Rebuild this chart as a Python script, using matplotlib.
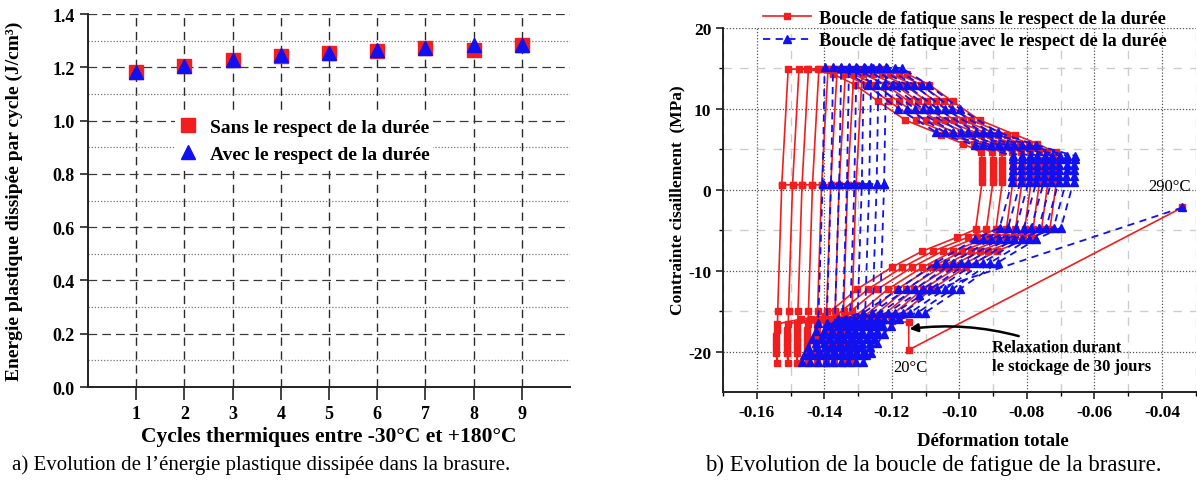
import matplotlib.pyplot as plt
import numpy as np

plt.rcParams['font.family'] = ['Liberation Serif', 'DejaVu Serif']

# ---- left panel : dissipated plastic energy per cycle
cycles = [1, 2, 3, 4, 5, 6, 7, 8, 9]
energy_sans = [1.183, 1.204, 1.226, 1.244, 1.253, 1.262, 1.273, 1.266, 1.284]
energy_avec = [1.183, 1.206, 1.227, 1.245, 1.254, 1.264, 1.274, 1.283, 1.285]

red_strain = [-0.1526, -0.1538, -0.1540, -0.1542, -0.1542, -0.1542, -0.1542, -0.1541, -0.1540,
              -0.1470, -0.1398, -0.1303, -0.1201, -0.1110, -0.1008, -0.0952,
              -0.0933, -0.0933, -0.0933, -0.0933, -0.0933, -0.0935,
              -0.0990, -0.1055, -0.1160, -0.1240, -0.1310, -0.1375, -0.1450, -0.1507, -0.1526]
red_stress = [0.6, -15.0, -21.4, -20.2, -19.5, -18.8, -18.1, -17.4, -16.6,
              -16.0, -15.6, -12.3, -9.6, -7.6, -5.9, -4.9,
              0.9, 1.6, 2.3, 3.0, 3.7, 4.6,
              5.7, 6.8, 8.6, 10.9, 13.0, 14.3, 14.9, 14.9, 0.6]
red_shift = [0.0, 0.0032, 0.0060, 0.0091, 0.0118, 0.0145, 0.0170, 0.0195, 0.0220]

blue_strain = [-0.1405, -0.1418, -0.1425, -0.1435, -0.1448, -0.1460, -0.1467,
               -0.1445, -0.1425, -0.1405, -0.1385, -0.1360,
               -0.1284, -0.1181, -0.1068, -0.0954, -0.0881,
               -0.0844, -0.0843, -0.0842, -0.0842, -0.0841, -0.0841,
               -0.0954, -0.1068, -0.1181, -0.1272, -0.1351, -0.1399, -0.1405]
blue_stress = [0.7, -16.5, -17.5, -18.5, -19.5, -20.4, -21.3,
               -20.2, -19.0, -17.8, -16.8, -16.0,
               -15.2, -12.3, -9.0, -6.1, -4.7,
               1.0, 1.7, 2.4, 3.1, 3.8, 4.2,
               5.5, 7.1, 10.0, 12.9, 15.0, 15.2, 0.7]
blue_shift = [0.0, 0.0025, 0.0049, 0.0072, 0.0094, 0.0116, 0.0138, 0.0160, 0.0182]

# storage at 20C then heating to 290C
red_init_strain = [-0.034, -0.115, -0.115, -0.120]
red_init_stress = [-2.2, -19.8, -16.4, -16.2]
blue_init_strain = [-0.034, -0.112]
blue_init_stress = [-2.2, -13.0]

RED = '#f01e1e'
BLUE = '#1010f0'

fig = plt.figure(figsize=(11.97, 4.81), dpi=100)

# ======================= left ==========================
ax1 = fig.add_axes([0.0735, 0.1933, 0.4027, 0.7755])
ax1.plot(cycles, energy_sans, 's', color=RED, ms=9.5, label='Sans le respect de la durée', zorder=3)
ax1.plot(cycles, energy_avec, '^', color=BLUE, ms=10.5, label='Avec le respect de la durée', zorder=4)
ax1.set_xlim(0, 10)
ax1.set_ylim(0, 1.4)
ax1.set_xticks(cycles)
ax1.set_yticks(np.arange(0, 1.41, 0.2))
ax1.set_yticks(np.arange(0.1, 1.4, 0.2), minor=True)
ax1.yaxis.grid(True, which='major', ls=(0, (7, 4)), color='#3a3a3a', lw=0.9)
ax1.yaxis.grid(True, which='minor', ls=(0, (1, 1.5)), color='#777777', lw=0.9)
ax1.xaxis.grid(True, ls=(0, (6, 4)), color='#2a2a2a', lw=1.0)
ax1.set_axisbelow(True)
for s in ['top', 'right']:
    ax1.spines[s].set_visible(False)
for s in ['left', 'bottom']:
    ax1.spines[s].set_linewidth(1.4)
    ax1.spines[s].set_color('#222222')
ax1.tick_params(axis='both', which='major', labelsize=13, width=1.2, length=6, color='#222222')
ax1.tick_params(axis='y', which='minor', length=0)
ax1.tick_params(axis='x', length=9, pad=4)
ax1.set_yticklabels(['%.1f' % v for v in np.arange(0, 1.41, 0.2)], fontweight='bold')
ax1.set_xticklabels([str(c) for c in cycles], fontweight='bold')
ax1.set_xlabel('Cycles thermiques entre -30°C et +180°C', fontsize=15.5, fontweight='bold')
ax1.xaxis.set_label_coords(0.5, -0.105)
ax1.set_ylabel('Energie plastique dissipée par cycle (J/cm³)', fontsize=14, fontweight='bold')
ax1.yaxis.set_label_coords(-0.135, 0.5)
leg1 = ax1.legend(loc='center left', bbox_to_anchor=(0.16, 0.66), frameon=True,
                  prop={'weight': 'bold', 'size': 14}, handletextpad=0.6, borderpad=0.2,
                  labelspacing=0.5, handlelength=1.0)
leg1.get_frame().set_edgecolor('none')
leg1.get_frame().set_facecolor('white')
leg1.get_frame().set_alpha(1)

# ======================= right ==========================
ax2 = fig.add_axes([0.604, 0.183, 0.395, 0.757])

rx, ry = [], []
for s in red_shift:
    rx += [v + s for v in red_strain]
    ry += red_stress
bx, by = [], []
for s in blue_shift:
    bx += [v + s for v in blue_strain]
    by += blue_stress

ax2.plot(red_init_strain, red_init_stress, '-s', color=RED, ms=4.8, lw=1.2, zorder=3)
ax2.plot(rx, ry, '-s', color=RED, ms=4.8, lw=1.2, zorder=3,
         label='Boucle de fatique sans le respect de la durée')
ax2.plot(blue_init_strain, blue_init_stress, '--^', color=BLUE, ms=5.5, lw=1.3, zorder=4,
         dashes=(4, 3))
ax2.plot(bx, by, '--^', color=BLUE, ms=5.5, lw=1.3, zorder=4, dashes=(4, 3),
         label='Boucle de fatique avec le respect de la durée')

ax2.set_xlim(-0.17, -0.03)
ax2.set_ylim(-25, 20)
ax2.set_xticks(np.arange(-0.16, -0.035, 0.02))
ax2.set_xticks(np.arange(-0.17, -0.025, 0.01), minor=True)
ax2.set_yticks([-20, -10, 0, 10, 20])
ax2.set_yticks([-15, -5, 5, 15], minor=True)
ax2.grid(True, which='major', ls=(0, (1, 1.5)), color='#555555', lw=0.9)
ax2.grid(True, which='minor', ls=(0, (6, 6)), color='#cccccc', lw=1.0)
ax2.set_axisbelow(True)
for s in ['top', 'right']:
    ax2.spines[s].set_visible(False)
for s in ['left', 'bottom']:
    ax2.spines[s].set_linewidth(1.4)
    ax2.spines[s].set_color('#222222')
ax2.tick_params(axis='both', which='major', labelsize=12.5, width=1.2, length=5, color='#222222')
ax2.tick_params(axis='both', which='minor', length=3, width=1.0)
ax2.set_xticklabels(['%.2f' % v for v in np.arange(-0.16, -0.035, 0.02)], fontweight='bold')
ax2.set_yticklabels(['-20', '-10', '0', '10', '20'], fontweight='bold')
ax2.set_ylabel('Contrainte cisaillement  (MPa)', fontsize=12.5, fontweight='bold')
ax2.yaxis.set_label_coords(-0.08, 0.53)
ax2.set_xlabel('Déformation totale', fontsize=13.5, fontweight='bold')
ax2.xaxis.set_label_coords(0.57, -0.11)

ax2.text(-0.0316, 0.4, '290°C', ha='right', va='center', fontsize=12)
ax2.text(-0.1145, -21.9, '20°C', ha='center', va='center', fontsize=12)
ax2.annotate('Relaxation durant\nle stockage de 30 jours', xy=(-0.1148, -17.2), xytext=(-0.0902, -20.6),
             ha='left', va='center', fontsize=12, fontweight='bold', linespacing=1.25,
             arrowprops=dict(arrowstyle='-|>', color='black', lw=1.8, shrinkA=0, shrinkB=0,
                             connectionstyle='arc3,rad=0.15'))

fig.legend(handles=ax2.get_lines()[1::2], loc='upper left', bbox_to_anchor=(755 / 1197, 0.995),
           frameon=False, prop={'weight': 'bold', 'size': 13.3}, handlelength=2.6, numpoints=1,
           handletextpad=0.4, labelspacing=0.3, borderaxespad=0.05)

fig.text(12 / 1197, 1 - 465 / 481, 'a) Evolution de l\u2019énergie plastique dissipée dans la brasure.',
         ha='left', va='center', fontsize=15)
fig.text(933 / 1197, 1 - 465 / 481, 'b) Evolution de la boucle de fatigue de la brasure.',
         ha='center', va='center', fontsize=16.5)

fig.savefig('out.png', dpi=100)
